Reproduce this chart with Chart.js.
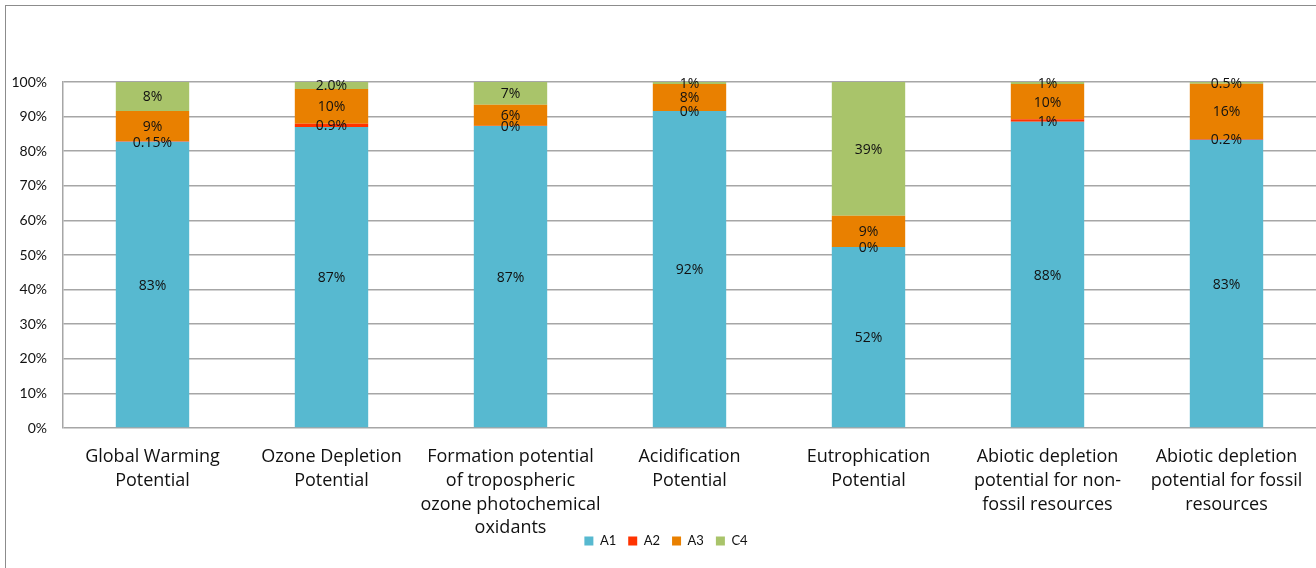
<!DOCTYPE html>
<html>
<head>
<meta charset="utf-8">
<script src="https://cdn.jsdelivr.net/npm/chart.js@4/dist/chart.umd.min.js"></script>
<style>
  body { margin: 0; background: #fff; }
  #wrap { position: relative; width: 1316px; height: 568px; overflow: hidden; }
  #frame { position: absolute; left: 5px; top: 5px; width: 1400px; height: 700px;
           border-left: 1.5px solid #8c8c8c; border-top: 1.5px solid #8c8c8c; }
  canvas { position: absolute; left: 0; top: 0; }
</style>
</head>
<body>
<div id="wrap">
  <div id="frame"></div>
  <canvas id="chart" width="1316" height="568"></canvas>
</div>
<script>
// categories (multi-line like the original)
let categories = [
  ["Global Warming", "Potential"],
  ["Ozone Depletion", "Potential"],
  ["Formation potential", "of tropospheric", "ozone photochemical", "oxidants"],
  ["Acidification", "Potential"],
  ["Eutrophication", "Potential"],
  ["Abiotic depletion", "potential for non-", "fossil resources"],
  ["Abiotic depletion", "potential for fossil", "resources"]
]

// share of each stage, in percent
let a1 = [82.7, 87.0, 87.3, 91.6, 52.3, 88.5, 83.3]
let a2 = [0.15, 0.9, 0.04, 0.04, 0.04, 0.7, 0.2]
let a3 = [8.8, 10.1, 6.1, 7.8, 9.0, 10.2, 16.0]
let c4 = [8.35, 2.0, 6.56, 0.56, 38.66, 0.6, 0.5]

// labels as printed on the bars
let a1Labels = ["83%", "87%", "87%", "92%", "52%", "88%", "83%"]
let a2Labels = ["0.15%", "0.9%", "0%", "0%", "0%", "1%", "0.2%"]
let a3Labels = ["9%", "10%", "6%", "8%", "9%", "10%", "16%"]
let c4Labels = ["8%", "2.0%", "7%", "1%", "39%", "1%", "0.5%"]

let yTicks = [0, 10, 20, 30, 40, 50, 60, 70, 80, 90, 100]

let lato = "Lato, sans-serif"
let openSans = "'Open Sans', sans-serif"

// draws the text in the middle of every segment
let barLabels = {
  id: "barLabels",
  afterDatasetsDraw(chart) {
    let ctx = chart.ctx
    ctx.save()
    ctx.fillStyle = "#111"
    ctx.font = "14px " + openSans
    ctx.textAlign = "center"
    ctx.textBaseline = "middle"
    chart.data.datasets.forEach(function(ds, i) {
      let meta = chart.getDatasetMeta(i)
      meta.data.forEach(function(bar, j) {
        let y = (bar.y + bar.base) / 2
        ctx.fillText(ds.labelsText[j], bar.x, y + 1)
      })
    })
    ctx.restore()
  }
}

// legend sits beside the last label line, like in excel
let moveLegend = {
  id: "moveLegend",
  afterLayout(chart) {
    let lg = chart.legend
    lg.top = 541 - 12 - 6.5
    lg.bottom = chart.height
    lg.left += 8
    lg.right += 8
  }
}

new Chart(document.getElementById("chart"), {
  type: "bar",
  data: {
    labels: categories,
    datasets: [
      { label: "A1", data: a1, labelsText: a1Labels, backgroundColor: "#57b9d0" },
      { label: "A2", data: a2, labelsText: a2Labels, backgroundColor: "#ff3300" },
      { label: "A3", data: a3, labelsText: a3Labels, backgroundColor: "#e98000" },
      { label: "C4", data: c4, labelsText: c4Labels, backgroundColor: "#a9c46a" }
    ]
  },
  options: {
    responsive: false,
    animation: false,
    devicePixelRatio: 1,
    barPercentage: 0.41,
    categoryPercentage: 1,
    layout: { padding: { top: 82, left: 0, right: 0, bottom: 0 } },
    plugins: {
      tooltip: { enabled: false },
      legend: {
        position: "bottom",
        maxHeight: 14,
        labels: {
          boxWidth: 9,
          boxHeight: 9,
          padding: 12,
          color: "#111",
          font: { size: 13, family: lato }
        }
      }
    },
    scales: {
      x: {
        stacked: true,
        grid: { display: false },
        border: { display: false },
        ticks: {
          color: "#111",
          padding: 9,
          maxRotation: 0,
          autoSkip: false,
          font: { size: 18, family: openSans, lineHeight: 1.32 }
        },
        afterFit: function(scale) { scale.height = 140 - scale.chart.legend.height }
      },
      y: {
        stacked: true,
        min: 0,
        max: 100,
        afterBuildTicks: function(scale) {
          scale.ticks = yTicks.map(function(v) { return { value: v } })
        },
        grid: { color: "#a6a6a6", lineWidth: 1.5, drawTicks: false },
        border: { display: true, color: "#a6a6a6", width: 1.5 },
        ticks: {
          color: "#111",
          padding: 16,
          font: { size: 14, family: lato },
          callback: function(v) { return v + "%" }
        },
        afterFit: function(scale) { scale.width = 63 }
      }
    }
  },
  plugins: [barLabels, moveLegend]
})
</script>
</body>
</html>
